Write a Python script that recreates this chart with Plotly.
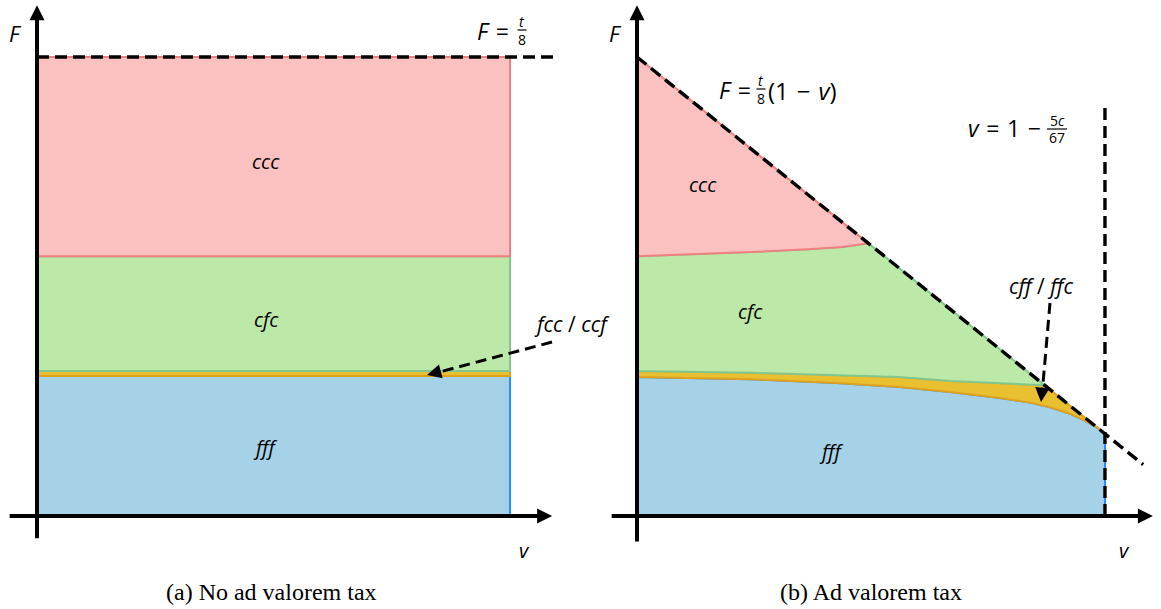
import plotly.graph_objects as go

W, H = 1161, 609

# ---------------- data (model units: F normalised so that t/8 = 1) ----------------
# Panel (a): no ad valorem tax -> horizontal region boundaries
a_v_max = 1.0
a_F_top = 1.0          # F = t/8
a_F_ccc_cfc = 0.566
a_F_cfc_mix = 0.316
a_F_mix_fff = 0.305

# Panel (b): ad valorem tax
b_diag_v = [0.0, 0.888]          # F = t/8 (1 - v)
b_diag_F = [1.0, 0.112]
b_v_cut = 0.821                  # v = 1 - 5c/67
b_v_cut_top = 0.889
b_rg_v = [0.0, 0.10, 0.20, 0.30, 0.36, 0.406]            # ccc / cfc boundary
b_rg_F = [0.566, 0.570, 0.575, 0.581, 0.586, 0.594]
b_gy_v = [0.0, 0.20, 0.46, 0.55, 0.64, 0.715]            # cfc / (cff,ffc) boundary
b_gy_F = [0.316, 0.312, 0.303, 0.294, 0.289, 0.285]
b_yb_v = [0.0, 0.198, 0.35, 0.461, 0.549, 0.637, 0.69, 0.725, 0.757, 0.782, 0.807, 0.821]
b_yb_F = [0.303, 0.298, 0.290, 0.281, 0.270, 0.257, 0.247, 0.237, 0.224, 0.210, 0.193, 0.179]

# ---------------- styles ----------------
FILL = dict(red="#fbc0c0", green="#bce8a8", yellow="#e8c030", blue="#a6d2e8")
EDGE = dict(red="#f08080", green="#80c890", yellow="#e0a020", blue="#1e90ff")
LAB_FONT = "Open Sans"
CAP_FONT = "Liberation Serif"
SP = "\u2004"

fig = go.Figure()


def poly(xs, ys, color, xa, ya):
    fig.add_trace(go.Scatter(
        x=list(xs) + [xs[0]], y=list(ys) + [ys[0]], mode="lines", fill="toself",
        fillcolor=FILL[color], line=dict(color=EDGE[color], width=2),
        xaxis=xa, yaxis=ya, hoverinfo="skip", showlegend=False))


def dashed(xs, ys, xa, ya):
    fig.add_trace(go.Scatter(
        x=xs, y=ys, mode="lines", line=dict(color="black", width=3.4, dash="12px,6px"),
        xaxis=xa, yaxis=ya, hoverinfo="skip", showlegend=False))


# ---- panel (a) ----
bands = [(0.0, a_F_mix_fff, "blue"), (a_F_mix_fff, a_F_cfc_mix, "yellow"),
         (a_F_cfc_mix, a_F_ccc_cfc, "green"), (a_F_ccc_cfc, a_F_top, "red")]
for lo, hi, col in bands:
    poly([0.0, a_v_max, a_v_max, 0.0], [lo, lo, hi, hi], col, "x", "y")
dashed([0.0, 1.095], [a_F_top, a_F_top], "x", "y")

# ---- panel (b) ----
poly(b_yb_v + [b_v_cut, 0.0], b_yb_F + [0.0, 0.0], "blue", "x2", "y2")
poly(b_gy_v + b_yb_v[::-1], b_gy_F + b_yb_F[::-1], "yellow", "x2", "y2")
poly(b_rg_v + b_gy_v[::-1], b_rg_F + b_gy_F[::-1], "green", "x2", "y2")
poly([b_diag_v[0]] + b_rg_v[::-1], [b_diag_F[0]] + b_rg_F[::-1], "red", "x2", "y2")
dashed(b_diag_v, b_diag_F, "x2", "y2")
dashed([b_v_cut, b_v_cut], [0.0, b_v_cut_top], "x2", "y2")

# ---------------- annotations ----------------
def px(x):
    return x / W


def py(y):
    return 1 - y / H


ann = []


def text(x, y, s, size=20, font=LAB_FONT, xanchor="center"):
    ann.append(dict(x=px(x), y=py(y), xref="paper", yref="paper", text=s, showarrow=False,
                    font=dict(family=font, size=size, color="black"),
                    xanchor=xanchor, yanchor="middle"))


def axis_arrow(xa, ya, x0, y0, x1, y1):
    ann.append(dict(x=x1, y=y1, ax=x0, ay=y0, xref=xa, yref=ya, axref=xa, ayref=ya,
                    text="", showarrow=True, arrowhead=2, arrowsize=0.75, arrowwidth=4,
                    arrowcolor="black", standoff=0, startstandoff=0))


def head(x, y, dx, dy):
    ann.append(dict(x=px(x), y=py(y), xref="paper", yref="paper", ax=dx, ay=dy,
                    text="", showarrow=True, arrowhead=2, arrowsize=1.1, arrowwidth=2.6,
                    arrowcolor="black", standoff=0))


# axes
axis_arrow("x", "y", 0.0, -0.052, 0.0, 1.113)
axis_arrow("x", "y", -0.061, 0.0, 1.089, 0.0)
axis_arrow("x2", "y2", 0.0, -0.059, 0.0, 1.113)
axis_arrow("x2", "y2", -0.047, 0.0, 0.905, 0.0)

# axis labels
text(15, 33, "<i>F</i>", 22)
text(615, 33, "<i>F</i>", 22)
text(524, 550, "<i>v</i>", 20)
text(1124, 550, "<i>v</i>", 20)

# region labels
text(266, 161, "<i>ccc</i>", 20)
text(266, 319, "<i>cfc</i>", 20)
text(265, 447, "<i>fff</i>", 20)
text(703, 184, "<i>ccc</i>", 20)
text(750, 311, "<i>cfc</i>", 20)
text(831, 451, "<i>fff</i>", 20)
text(572, 324, "<i>fcc</i> / <i>ccf</i>", 21)
text(1041, 286, "<i>cff</i> / <i>ffc</i>", 21)

# formulas
shapes = []


def frac(xc, ybar, num, den, w):
    text(xc, ybar - 8, num, 14)
    text(xc, ybar + 9, den, 14)
    shapes.append(dict(type="line", xref="paper", yref="paper",
                       x0=px(xc - w / 2), x1=px(xc + w / 2), y0=py(ybar), y1=py(ybar),
                       line=dict(color="black", width=1.2)))


text(511, 31, "<i>F</i>" + SP + "=", 23, xanchor="right")
frac(522, 30, "<i>t</i>", "8", 9)

text(753, 90, "<i>F</i>" + SP + "=", 23, xanchor="right")
frac(761, 89, "<i>t</i>", "8", 9)
text(766, 90, "(1" + SP + "−" + SP + "<i>v</i>)", 24, xanchor="left")

text(1043, 128, "<i>v</i>" + SP + "=" + SP + "1" + SP + "−", 23, xanchor="right")
frac(1057, 129, "5<i>c</i>", "67", 20)

# pointer arrows (dashed shafts + heads)
for (x0, y0, x1, y1) in [(552, 342, 432, 374), (1050, 303, 1042, 395)]:
    shapes.append(dict(type="line", xref="paper", yref="paper",
                       x0=px(x0), y0=py(y0), x1=px(x1), y1=py(y1),
                       line=dict(color="black", width=3, dash="11px,6px")))
head(427, 375, 13.5, -3.6)
head(1041, 402, 1.3, -14)

# captions
text(271, 592, "(a) No ad valorem tax", 24, CAP_FONT)
text(871, 592, "(b) Ad valorem tax", 24, CAP_FONT)

ax_common = dict(visible=False, showgrid=False, zeroline=False, fixedrange=True)
fig.update_layout(
    width=W, height=H, margin=dict(l=0, r=0, t=0, b=0),
    paper_bgcolor="white", plot_bgcolor="white", showlegend=False,
    xaxis=dict(domain=[0, 580 / W], range=[-37 / 473, (580 - 37) / 473], anchor="y", **ax_common),
    yaxis=dict(domain=[0, 1], range=[-93 / 459, 516 / 459], anchor="x", **ax_common),
    xaxis2=dict(domain=[580 / W, 1], range=[(580 - 637) / 570, (W - 637) / 570], anchor="y2", **ax_common),
    yaxis2=dict(domain=[0, 1], range=[-93 / 459, 516 / 459], anchor="x2", **ax_common),
    annotations=ann, shapes=shapes,
)

fig.write_html("out.html", config=dict(displayModeBar=False),
               post_script="document.body.style.margin='0';document.body.style.overflow='hidden';")
